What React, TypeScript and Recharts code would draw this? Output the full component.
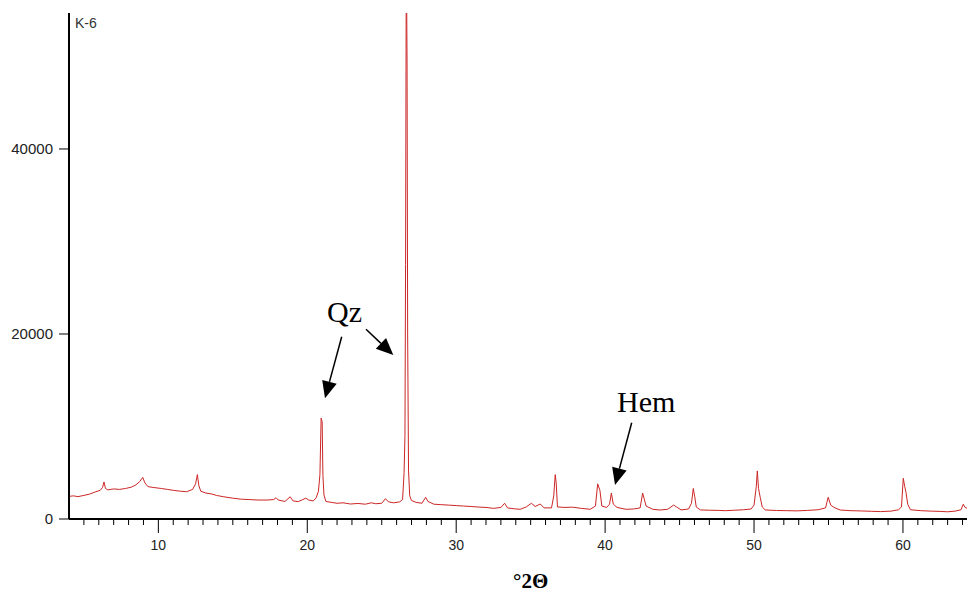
import React from "react";
import { LineChart, Line, XAxis, YAxis } from "recharts";

// 2θ positions (degrees)
const twoTheta: number[] = [
  4.0, 4.3, 4.6, 5.0, 5.4, 5.8, 6.1, 6.25, 6.35, 6.45, 6.6, 7.0, 7.4, 7.8, 8.2, 8.5, 8.75, 8.95, 9.1, 9.3,
  9.7, 10.2, 10.6, 11.0, 11.5, 11.9, 12.3, 12.5, 12.62, 12.72, 12.85, 13.2, 13.6, 13.9, 14.4, 15.0, 15.5, 16.1, 16.7, 17.3,
  17.75, 17.9, 18.05, 18.5, 18.85, 19.05, 19.4, 19.7, 19.9, 20.1, 20.4, 20.6, 20.75, 20.85, 20.93, 21.0, 21.05, 21.12, 21.25, 21.6,
  22.0, 22.4, 22.9, 23.4, 23.9, 24.3, 24.6, 25.0, 25.25, 25.45, 25.8, 26.2, 26.4, 26.5, 26.56, 26.6, 26.65, 26.7, 26.74, 26.8,
  26.88, 27.0, 27.3, 27.7, 27.95, 28.1, 28.5, 29.0, 29.5, 30.0, 30.5, 31.0, 31.6, 32.0, 32.5, 33.0, 33.25, 33.45, 33.9, 34.3,
  34.7, 35.05, 35.3, 35.65, 35.9, 36.4, 36.55, 36.65, 36.72, 36.8, 37.3, 37.8, 38.4, 39.0, 39.35, 39.5, 39.65, 39.78, 40.1, 40.3,
  40.42, 40.55, 40.8, 41.4, 41.9, 42.35, 42.52, 42.62, 42.75, 43.2, 43.7, 44.2, 44.6, 44.8, 45.1, 45.6, 45.8, 45.92, 46.02, 46.12,
  46.4, 47.0, 47.6, 48.1, 48.7, 49.3, 49.8, 50.0, 50.15, 50.22, 50.3, 50.42, 50.55, 50.75, 51.5, 52.2, 52.9, 53.6, 54.3, 54.8,
  54.98, 55.15, 55.35, 55.5, 55.8, 56.5, 57.2, 57.9, 58.5, 59.2, 59.7, 59.9, 60.02, 60.12, 60.2, 60.32, 60.5, 61.2, 61.9, 62.5,
  63.0, 63.5, 63.9, 64.05, 64.15, 64.3,
];

// intensity (counts)
const intensity: number[] = [
  2450, 2500, 2420, 2550, 2700, 2950, 3100, 3400, 4000, 3300, 3150, 3250, 3200, 3300, 3450, 3700, 4050, 4500, 3900, 3500,
  3400, 3300, 3200, 3100, 3000, 2950, 3200, 3800, 4800, 3600, 3000, 2800, 2700, 2550, 2400, 2250, 2150, 2100, 2050, 2050,
  2100, 2300, 2050, 1900, 2400, 1950, 1880, 2100, 2250, 2050, 1950, 2300, 3000, 4800, 10900, 10500, 4700, 2600, 1900, 1800,
  1700, 1750, 1620, 1680, 1600, 1750, 1650, 1700, 2200, 1850, 1750, 1850, 2100, 5000, 9000, 27500, 62000, 49500, 20000, 5200,
  2500, 2000, 1800, 1700, 2350, 1900, 1600, 1550, 1500, 1450, 1400, 1350, 1280, 1250, 1150, 1250, 1700, 1200, 1100, 1050,
  1300, 1700, 1350, 1620, 1200, 1200, 2500, 4800, 3800, 1300, 1250, 1280, 1150, 1050, 1400, 3800, 3100, 1400, 1250, 1600,
  2800, 1600, 1250, 1050, 1080, 1200, 2800, 2200, 1400, 1050, 970, 1050, 1500, 1300, 980, 1080, 1700, 3300, 2400, 1300,
  980, 950, 930, 900, 950, 1000, 1080, 1500, 3500, 5200, 3300, 2300, 1300, 980, 920, 900, 880, 930, 1000, 1200,
  2350, 1500, 1280, 1150, 970, 900, 870, 830, 800, 850, 1000, 1300, 4400, 3500, 2900, 1600, 1000, 900, 850, 820,
  780, 850, 1000, 1600, 1300, 1150,
];

const yTicks: number[] = [0, 20000, 40000];
const xMajorTicks: number[] = [10, 20, 30, 40, 50, 60];
const xMinorTicks: number[] = [
  5, 6, 7, 8, 9, 10, 11, 12, 13, 14, 15, 16, 17, 18, 19, 20, 21, 22, 23, 24, 25, 26, 27, 28, 29, 30, 31, 32, 33, 34,
  35, 36, 37, 38, 39, 40, 41, 42, 43, 44, 45, 46, 47, 48, 49, 50, 51, 52, 53, 54, 55, 56, 57, 58, 59, 60, 61, 62, 63, 64,
];

const data = twoTheta.map((t, i) => ({ t, v: intensity[i] }));

const XTick = (props: any) => {
  const { x, y, payload } = props;
  const major = xMajorTicks.includes(payload.value);
  return (
    <g>
      <line x1={x} x2={x} y1={y} y2={y + (major ? 14 : 6)} stroke="#000" strokeWidth={1} />
      {major && (
        <text
          x={x}
          y={y + 31}
          textAnchor="middle"
          fontSize={14}
          fontFamily="'Liberation Sans', Arial, sans-serif"
          fill="#222"
        >
          {payload.value}
        </text>
      )}
    </g>
  );
};

const Arrow = ({ x1, y1, x2, y2 }: { x1: number; y1: number; x2: number; y2: number }) => {
  const dx = x2 - x1;
  const dy = y2 - y1;
  const len = Math.sqrt(dx * dx + dy * dy);
  const ux = dx / len;
  const uy = dy / len;
  const head = 17;
  const half = 7.5;
  const bx = x2 - ux * head;
  const by = y2 - uy * head;
  const px = -uy;
  const py = ux;
  const pts = `${x2},${y2} ${bx + px * half},${by + py * half} ${bx - px * half},${by - py * half}`;
  return (
    <g>
      <line x1={x1} y1={y1} x2={bx} y2={by} stroke="#000" strokeWidth={1.5} />
      <polygon points={pts} fill="#000" />
    </g>
  );
};

export default function App() {
  return (
    <div style={{ width: 967, height: 592, padding: "8px 0 0 8px", boxSizing: "border-box" }}>
      <style>{"html{overflow:hidden;} body{margin:0;}"}</style>
      <div style={{ position: "relative", width: 959, height: 584 }}>
        <LineChart
          width={959}
          height={584}
          data={data}
          margin={{ top: 5, right: 0, bottom: 0, left: 0 }}
        >
          <XAxis
            dataKey="t"
            type="number"
            domain={[4, 64.3]}
            allowDataOverflow
            ticks={xMinorTicks}
            interval={0}
            tick={<XTick />}
            tickLine={false}
            tickSize={0}
            tickMargin={0}
            height={73}
            axisLine={{ stroke: "#000", strokeWidth: 2 }}
          />
          <XAxis
            xAxisId="top"
            orientation="top"
            type="number"
            domain={[4, 64.3]}
            height={0}
            tick={false}
            tickLine={false}
            axisLine={{ stroke: "#000", strokeWidth: 2 }}
          />
          <YAxis
            type="number"
            domain={[0, 54700]}
            allowDataOverflow
            ticks={yTicks}
            interval={0}
            width={61}
            tickSize={10}
            tickMargin={6}
            tickLine={{ stroke: "#000", strokeWidth: 1 }}
            axisLine={{ stroke: "#000", strokeWidth: 2 }}
            tick={{ fontSize: 15, fill: "#222", fontFamily: "'Liberation Sans', Arial, sans-serif" }}
          />
          <Line
            type="linear"
            dataKey="v"
            stroke="#cc2626"
            strokeWidth={1}
            dot={false}
            activeDot={false}
            isAnimationActive={false}
          />
        </LineChart>
        <svg
          width={959}
          height={584}
          style={{ position: "absolute", left: 0, top: 0, pointerEvents: "none", overflow: "visible" }}
        >
          <text x={67} y={20} fontSize={14} fill="#333" fontFamily="'Liberation Sans', Arial, sans-serif">
            K-6
          </text>
          <text x={319} y={314} fontSize={30} fill="#000" fontFamily="'Liberation Serif', 'Times New Roman', serif">
            Qz
          </text>
          <text x={609} y={404} fontSize={30} fill="#000" fontFamily="'Liberation Serif', 'Times New Roman', serif">
            Hem
          </text>
          <text
            x={505}
            y={580}
            fontSize={21}
            fontWeight="bold"
            fill="#000"
            fontFamily="'Liberation Serif', 'Times New Roman', serif"
          >
            °2Θ
          </text>
          <Arrow x1={333.7} y1={328.7} x2={317} y2={390.3} />
          <Arrow x1={358} y1={321.3} x2={385.3} y2={347} />
          <Arrow x1={623.7} y1={414.7} x2={607} y2={477} />
        </svg>
      </div>
    </div>
  );
}
